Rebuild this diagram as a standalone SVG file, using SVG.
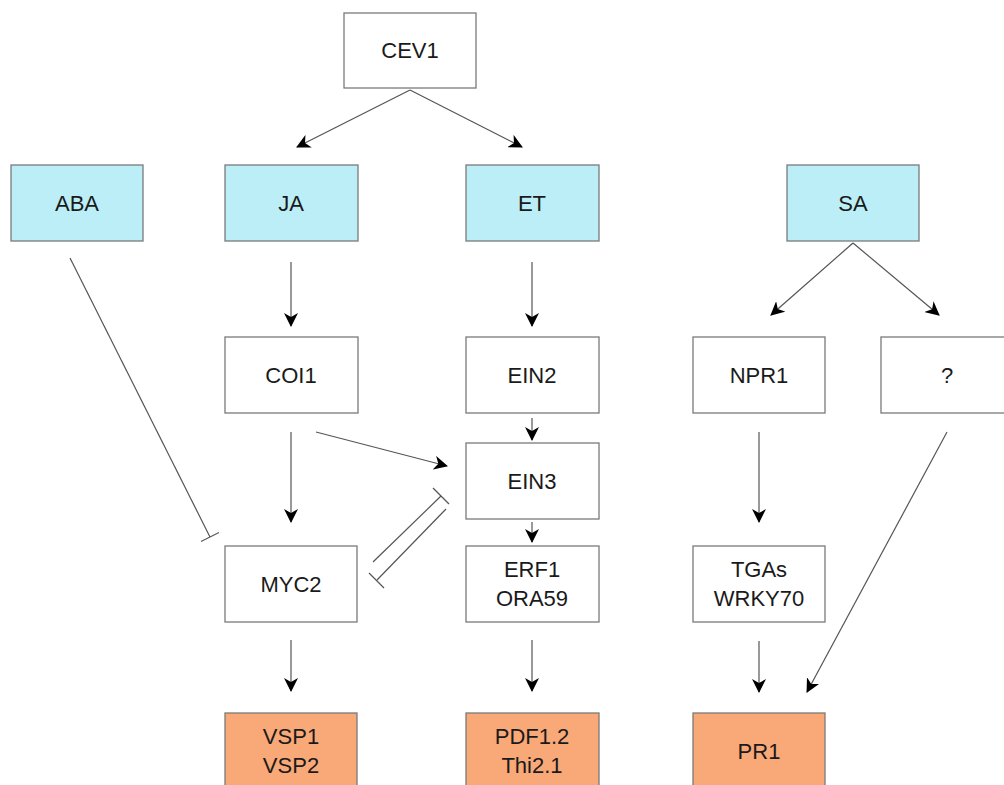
<svg xmlns="http://www.w3.org/2000/svg" width="1004" height="785" viewBox="0 0 1004 785">
<defs>
<style>
.box{stroke:#7a7a7a;stroke-width:1.3;fill:#fff}
.hormone{fill:#bbeef6}
.gene{fill:#f9a877}
.lbl{font-family:"Liberation Sans",Arial,sans-serif;font-size:22px;fill:#1a1a1a;text-anchor:middle}
.con{stroke:#555;stroke-width:1.2;fill:none}
.arr{marker-end:url(#ah)}
</style>
<marker id="ah" viewBox="0 0 14 14" refX="13" refY="7" markerWidth="14" markerHeight="14" markerUnits="userSpaceOnUse" orient="auto">
<path d="M0,0 L14,7 L0,14 L4,7 Z" fill="#000"/>
</marker>
</defs>
<rect width="1004" height="785" fill="#fff"/>
<g id="connectors">
<line class="con arr" x1="410" y1="90" x2="297" y2="147"/>
<line class="con arr" x1="410" y1="90" x2="522" y2="147"/>
<line class="con arr" x1="853" y1="243" x2="771" y2="315"/>
<line class="con arr" x1="853" y1="243" x2="939" y2="315"/>
<line class="con arr" x1="291" y1="262" x2="291" y2="326"/>
<line class="con arr" x1="532" y1="262" x2="532" y2="326"/>
<line class="con arr" x1="532" y1="418" x2="532" y2="440"/>
<line class="con arr" x1="532" y1="522" x2="532" y2="542"/>
<line class="con arr" x1="291" y1="432" x2="291" y2="522"/>
<line class="con arr" x1="316" y1="432" x2="447" y2="466"/>
<line class="con arr" x1="291" y1="640" x2="291" y2="691"/>
<line class="con arr" x1="532" y1="640" x2="532" y2="691"/>
<line class="con arr" x1="759" y1="432" x2="759" y2="522"/>
<line class="con arr" x1="759" y1="641" x2="759" y2="692"/>
<line class="con arr" x1="947" y1="432" x2="807" y2="692"/>
<line class="con" x1="70" y1="258" x2="210" y2="537"/>
<line class="con" x1="201" y1="541.5" x2="219" y2="532.5"/>
<line class="con" x1="373" y1="562" x2="441" y2="496"/>
<line class="con" x1="433" y1="488" x2="449" y2="504"/>
<line class="con" x1="446" y1="509" x2="377" y2="580"/>
<line class="con" x1="369" y1="573" x2="384" y2="588"/>
</g>
<g id="CEV1"><rect class="box" x="344" y="13" width="132" height="75"/><text class="lbl" x="410" y="58">CEV1</text></g>
<g id="ABA"><rect class="box hormone" x="11" y="165" width="132" height="76"/><text class="lbl" x="77" y="211">ABA</text></g>
<g id="JA"><rect class="box hormone" x="225" y="165" width="133" height="76"/><text class="lbl" x="291" y="211">JA</text></g>
<g id="ET"><rect class="box hormone" x="466" y="165" width="133" height="76"/><text class="lbl" x="532" y="211">ET</text></g>
<g id="SA"><rect class="box hormone" x="787" y="165" width="132" height="76"/><text class="lbl" x="853" y="211">SA</text></g>
<g id="COI1"><rect class="box" x="225" y="337" width="133" height="76"/><text class="lbl" x="291" y="383">COI1</text></g>
<g id="EIN2"><rect class="box" x="466" y="337" width="133" height="76"/><text class="lbl" x="532" y="383">EIN2</text></g>
<g id="NPR1"><rect class="box" x="693" y="337" width="132" height="76"/><text class="lbl" x="759" y="383">NPR1</text></g>
<g id="unknown"><rect class="box" x="881" y="337" width="133" height="76"/><text class="lbl" x="947" y="383">?</text></g>
<g id="EIN3"><rect class="box" x="466" y="443" width="133" height="76"/><text class="lbl" x="532" y="489">EIN3</text></g>
<g id="MYC2"><rect class="box" x="225" y="546" width="132" height="76"/><text class="lbl" x="291" y="592">MYC2</text></g>
<g id="ERF1"><rect class="box" x="466" y="546" width="133" height="76"/><text class="lbl" x="532" y="577">ERF1</text><text class="lbl" x="532" y="606">ORA59</text></g>
<g id="TGAs"><rect class="box" x="693" y="546" width="132" height="76"/><text class="lbl" x="759" y="577">TGAs</text><text class="lbl" x="759" y="606">WRKY70</text></g>
<g id="VSP"><rect class="box gene" x="225" y="713" width="132" height="78"/><text class="lbl" x="291" y="744">VSP1</text><text class="lbl" x="291" y="773">VSP2</text></g>
<g id="PDF"><rect class="box gene" x="466" y="713" width="133" height="78"/><text class="lbl" x="532" y="744">PDF1.2</text><text class="lbl" x="532" y="773">Thi2.1</text></g>
<g id="PR1"><rect class="box gene" x="693" y="713" width="132" height="78"/><text class="lbl" x="759" y="759">PR1</text></g>
</svg>
